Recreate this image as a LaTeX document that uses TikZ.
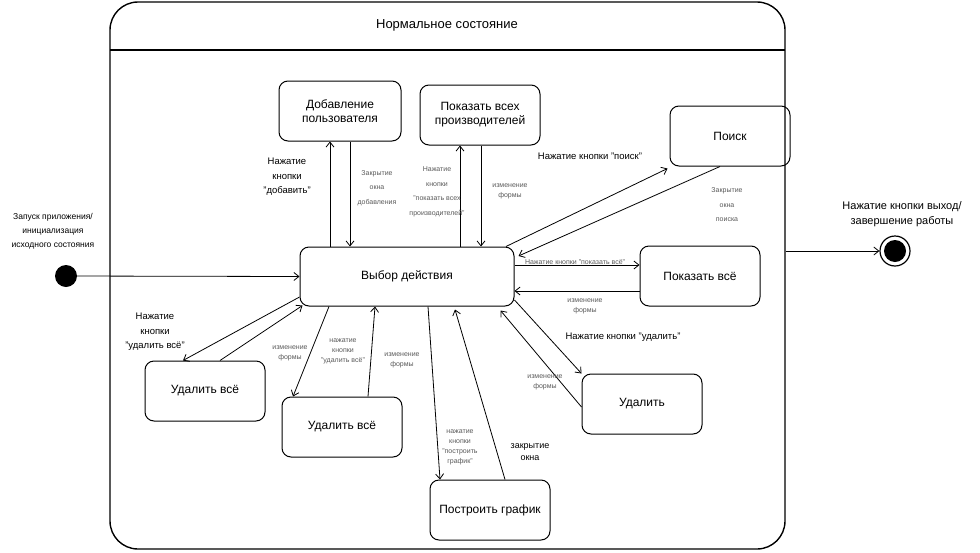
\documentclass[tikz,border=0pt]{standalone}
\usepackage{fontspec}
\setmainfont{Liberation Sans}
\usetikzlibrary{arrows.meta}
\begin{document}
\begin{tikzpicture}[x=1pt,y=-1pt,
 st/.style={draw, line width=1pt, rounded corners=9pt, minimum width=120pt, minimum height=60pt, align=center, font=\fontsize{12}{14}\selectfont, inner sep=2pt},
 lb/.style={align=center, font=\fontsize{9.5}{14.5}\selectfont, inner sep=0pt},
 sm/.style={align=center, text=black!65, font=\fontsize{7}{14.5}\selectfont, inner sep=0pt},
 smt/.style={align=center, text=black!65, font=\fontsize{7}{10}\selectfont, inner sep=0pt},
 ar/.style={-{Straight Barb[length=5pt,width=8pt]}, line width=0.8pt},
]
\useasboundingbox (0,0) rectangle (980,552);
% outer composite state
\node[draw, line width=1.4pt, rounded corners=28pt, minimum width=675pt, minimum height=547pt] (normal) at (447.5,275.5) {};
\node[font=\fontsize{13}{15}\selectfont] (title) at (447,25) {Нормальное состояние};
\draw[line width=1.4pt] (110,50) -- (785,50);

% states
\node[st, minimum width=214pt, minimum height=59pt] (choice) at (407,276.5) {Выбор действия};
\node[st, minimum width=122pt] (add) at (340,111) {Добавление\\пользователя};
\node[st] (allprod) at (480,115) {Показать всех\\производителей};
\node[st] (search) at (730,136) {Поиск};
\node[st] (showall) at (700,276) {Показать всё};
\node[st] (del) at (642,404) {Удалить};
\node[st] (plot) at (490,510) {Построить график};
\node[st] (delall2) at (342,427) {Удалить всё};
\node[st] (delall1) at (205,391) {Удалить всё};

% initial and final
\node[circle, fill=black, minimum size=22pt, inner sep=0pt] (start) at (66,276) {};
\node[circle, draw, line width=1.2pt, minimum size=30pt, inner sep=0pt] (final) at (895,251) {};
\node[circle, fill=black, minimum size=22pt, inner sep=0pt] (finalin) at (895,251) {};

\node[align=center, font=\fontsize{8.5}{14}\selectfont] (startlbl) at (53,231) {Запуск приложения/\\инициализация\\исходного состояния};
\node[align=center, font=\fontsize{11}{15}\selectfont] (finlbl) at (902,214) {Нажатие кнопки выход/\\завершение работы};

\draw[ar] (start) -- (choice.west);
\draw[ar] (final -| normal.east) -- (final);

% add user
\draw[ar] ([xshift=-77pt]choice.north) -- ([xshift=-10pt]add.south);
\draw[ar] ([xshift=10pt]add.south) -- ([xshift=-57pt]choice.north);
\node[lb] (l1) at (287,177) {Нажатие\\кнопки\\"добавить"};
\node[sm] (l2) at (377,188) {Закрытие\\окна\\добавления};

% show all producers
\draw[ar] ([xshift=53pt]choice.north) -- ([xshift=-20pt]allprod.south);
\draw[ar] ([xshift=1pt]allprod.south) -- ([xshift=74pt]choice.north);
\node[sm] (l3) at (437,192) {Нажатие\\кнопки\\"показать всех\\производителей"};
\node[smt] (l4) at (510,191) {изменение\\формы};

% search
\draw[ar] ([xshift=99pt]choice.north) -- ([xshift=-2pt,yshift=-2pt]search.south west);
\draw[ar] ([xshift=-10pt]search.south) -- ([xshift=4pt,yshift=20.5pt]choice.east);
\node[lb] (l5) at (590,156) {Нажатие кнопки "поиск"};
\node[sm] (l6) at (727,205) {Закрытие\\окна\\поиска};

% show all
\draw[ar] ([yshift=11.5pt]choice.east) -- ([yshift=11pt]showall.west);
\draw[ar] ([yshift=-15pt]showall.west) -- ([yshift=-14.5pt]choice.east);
\node[smt] (l7) at (575,262) {Нажатие кнопки "показать всё"};
\node[smt] (l8) at (585,306) {изменение\\формы};

% delete
\draw[ar] ([yshift=-23.5pt]choice.east) -- (del.north west);
\draw[ar] ([yshift=-3pt]del.west) -- ([xshift=-14pt,yshift=-4pt]choice.south east);
\node[lb] (l9) at (623,337) {Нажатие кнопки "удалить"};
\node[smt] (l10) at (545,382) {изменение\\формы};

% plot
\draw[ar] ([xshift=21pt]choice.south) -- ([xshift=-50pt]plot.north);
\draw[ar] ([xshift=15pt]plot.north) -- ([xshift=48pt,yshift=-3pt]choice.south);
\node[smt] (l11) at (460,447) {нажатие\\кнопки\\"построить\\график"};
\node[align=center, font=\fontsize{9}{12}\selectfont] (l12) at (530,452) {закрытие\\окна};

% delete all (middle)
\draw[ar] ([xshift=-78pt]choice.south) -- ([xshift=-49pt]delall2.north);
\draw[ar] ([xshift=26pt]delall2.north) -- ([xshift=-32pt]choice.south);
\node[smt] (l13) at (343,351) {нажатие\\кнопки\\"удалить всё"};
\node[smt] (l14) at (402,360) {изменение\\формы};

% delete all (left)
\draw[ar] ([yshift=-20.5pt]choice.west) -- ([xshift=-22pt]delall1.north);
\draw[ar] ([xshift=15pt]delall1.north) -- ([xshift=3pt,yshift=1pt]choice.south west);
\node[lb] (l15) at (155,332) {Нажатие\\кнопки\\"удалить всё"};
\node[smt] (l16) at (290,353) {изменение\\формы};
\end{tikzpicture}
\end{document}
